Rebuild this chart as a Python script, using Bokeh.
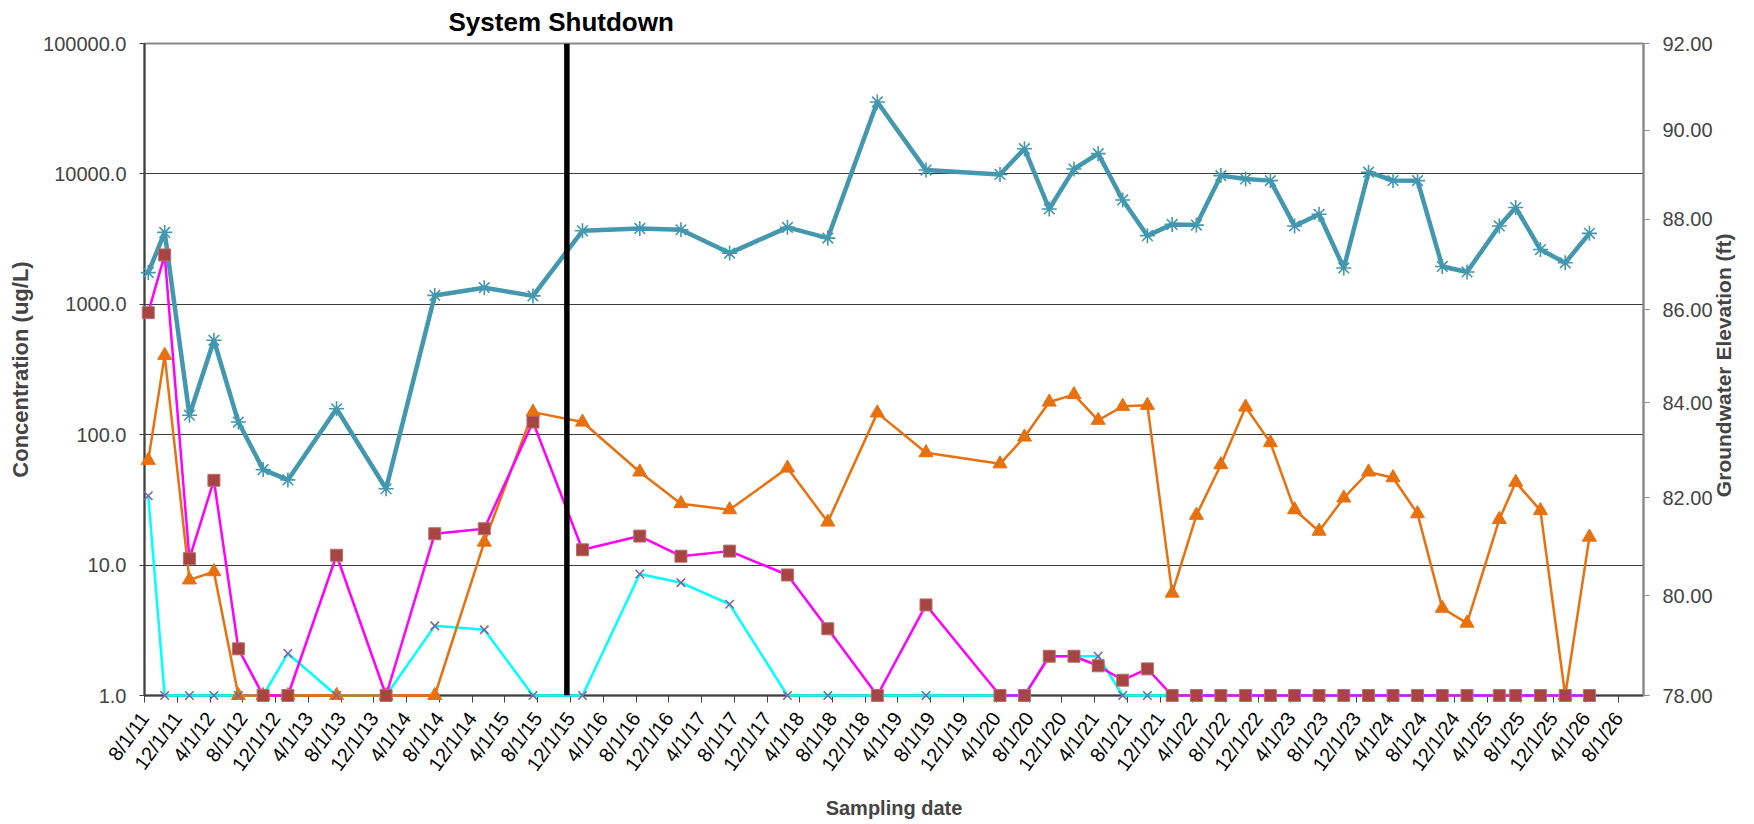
import math
import pandas as pd
from bokeh.plotting import figure
from bokeh.models import (Range1d, LinearAxis, FixedTicker, PrintfTickFormatter, Span)
from bokeh.embed import file_html
from bokeh.resources import INLINE

# ---------------- data ----------------
DATES = ["2011-08-15", "2011-10-15", "2012-01-15", "2012-04-15", "2012-07-15",
         "2012-10-15", "2013-01-15", "2013-07-15", "2014-01-15", "2014-07-15",
         "2015-01-15", "2015-07-15", "2016-01-15", "2016-08-15", "2017-01-15",
         "2017-07-15", "2018-02-15", "2018-07-15", "2019-01-15", "2019-07-15",
         "2020-04-15", "2020-07-15", "2020-10-15", "2021-01-15", "2021-04-15",
         "2021-07-15", "2021-10-15", "2022-01-15", "2022-04-15", "2022-07-15",
         "2022-10-15", "2023-01-15", "2023-04-15", "2023-07-15", "2023-10-15",
         "2024-01-15", "2024-04-15", "2024-07-15", "2024-10-15", "2025-01-15",
         "2025-05-15", "2025-07-15", "2025-10-15", "2026-01-15", "2026-04-15"]

TEAL = [1750, 3560, 141, 530, 125, 54, 45, 158, 38.5, 1170,
        1340, 1160, 3660, 3820, 3730, 2470, 3890, 3220, 35600, 10700,
        9900, 15600, 5380, 10900, 14300, 6310, 3360, 4100, 4050, 9700,
        9150, 8880, 3990, 4900, 1900, 10300, 8900, 8880, 1950, 1770,
        3990, 5520, 2630, 2080, 3500]

ORANGE = [63.6, 406, 7.7, 8.9, 1.0, 1.0, 1.0, 1.0, 1.0, 1.0,
          15, 149, 125, 51.8, 29.6, 26.6, 55.5, 21.4, 147, 72.8,
          59.8, 96, 178, 203, 129, 165, 168, 6.1, 24.1, 58.9,
          163, 86.9, 26.6, 18.2, 32.7, 51.8, 46.8, 24.8, 4.67, 3.59,
          22.4, 43.2, 26.2, 1.0, 16.4]

MAGENTA = [863, 2390, 11.2, 44.7, 2.28, 1.0, 1.0, 11.9, 1.0, 17.4,
           19, 125, 13.1, 16.7, 11.7, 12.8, 8.4, 3.25, 1.0, 4.95,
           1.0, 1.0, 2.0, 2.0, 1.69, 1.31, 1.6, 1.0, 1.0, 1.0,
           1.0, 1.0, 1.0, 1.0, 1.0, 1.0, 1.0, 1.0, 1.0, 1.0,
           1.0, 1.0, 1.0, 1.0, 1.0]

CYAN = [34, 1.0, 1.0, 1.0, 1.0, 1.0, 2.1, 1.0, 1.0, 3.42,
        3.19, 1.0, 1.0, 8.54, 7.33, 5.01, 1.0, 1.0, 1.0, 1.0,
        1.0, 1.0, 2.0, 2.0, 2.0, 1.0, 1.0, 1.0, 1.0, 1.0,
        1.0, 1.0, 1.0, 1.0, 1.0, 1.0, 1.0, 1.0, 1.0, 1.0,
        1.0, 1.0, 1.0, 1.0, 1.0]

TICK_LABELS = ["8/1/11", "12/1/11", "4/1/12", "8/1/12", "12/1/12", "4/1/13",
               "8/1/13", "12/1/13", "4/1/14", "8/1/14", "12/1/14", "4/1/15",
               "8/1/15", "12/1/15", "4/1/16", "8/1/16", "12/1/16", "4/1/17",
               "8/1/17", "12/1/17", "4/1/18", "8/1/18", "12/1/18", "4/1/19",
               "8/1/19", "12/1/19", "4/1/20", "8/1/20", "12/1/20", "4/1/21",
               "8/1/21", "12/1/21", "4/1/22", "8/1/22", "12/1/22", "4/1/23",
               "8/1/23", "12/1/23", "4/1/24", "8/1/24", "12/1/24", "4/1/25",
               "8/1/25", "12/1/25", "4/1/26", "8/1/26"]

LEFT_TICKS = [1, 10, 100, 1000, 10000, 100000]
RIGHT_TICKS = [78, 80, 82, 84, 86, 88, 90, 92]
X_START, X_END = "2011-08-01", "2026-11-02"
SHUTDOWN_DATE = "2015-11-18"
RIGHT_TITLE = "Groundwater Elevation (ft)"

# ---------------- helpers ----------------
EPOCH = pd.Timestamp("1970-01-01")


def to_ms(dates):
    return [int((d - EPOCH) // pd.Timedelta(milliseconds=1)) for d in pd.to_datetime(dates)]


x = to_ms(DATES)
tick_ms = to_ms(pd.to_datetime(TICK_LABELS, format="%m/%d/%y"))
x0, x1 = to_ms([X_START, X_END])

FONT = "Liberation Sans"

p = figure(width=1750, height=822, output_backend="svg", toolbar_location=None,
           y_axis_type="log", x_range=Range1d(x0, x1),
           y_range=Range1d(LEFT_TICKS[0], LEFT_TICKS[-1]),
           min_border_left=144, min_border_right=107, min_border_top=43,
           min_border_bottom=126)
p.outline_line_color = "#898989"
p.outline_line_width = 2
p.background_fill_color = "white"
p.border_fill_color = "white"

# title: "System Shutdown"
p.title.text = "System Shutdown"
p.title.align = "left"
p.title.vertical_align = "top"
p.title.offset = 304
p.title.text_font = FONT
p.title.text_font_style = "bold"
p.title.text_font_size = "26px"
p.title.text_color = "black"
p.title.standoff = 10

# x axis
xa = p.xaxis[0]
xa.ticker = FixedTicker(ticks=tick_ms)
xa.major_label_overrides = {t: s for t, s in zip(tick_ms, TICK_LABELS)}
xa.major_label_orientation = 0.94
xa.major_label_text_font = FONT
xa.major_label_text_font_size = "20px"
xa.major_label_text_color = "black"
xa.major_label_standoff = 12
xa.major_tick_out = 7
xa.major_tick_in = 0
xa.minor_tick_line_color = None
xa.axis_line_color = "#404040"
xa.axis_line_width = 2
xa.major_tick_line_color = "#404040"
xa.axis_label = "Sampling date"
xa.axis_label_text_font = FONT
xa.axis_label_text_font_style = "bold"
xa.axis_label_text_font_size = "20px"
xa.axis_label_standoff = 13

# left axis
ya = p.yaxis[0]
ya.ticker = FixedTicker(ticks=LEFT_TICKS)
ya.formatter = PrintfTickFormatter(format="%.1f")
ya.major_label_text_font = FONT
ya.major_label_text_font_size = "20px"
ya.major_label_standoff = 13
ya.major_tick_out = 5
ya.major_tick_in = 0
ya.minor_tick_line_color = None
ya.axis_line_color = "#404040"
ya.axis_line_width = 2
ya.major_tick_line_color = "#404040"
ya.axis_label = "Concentration (ug/L)"
ya.axis_label_text_font = FONT
ya.axis_label_text_font_style = "bold"
ya.axis_label_text_font_size = "22px"
ya.axis_label_standoff = 7

# right axis
p.extra_y_ranges = {"elev": Range1d(RIGHT_TICKS[0], RIGHT_TICKS[-1])}
ra = LinearAxis(y_range_name="elev", ticker=FixedTicker(ticks=RIGHT_TICKS),
                formatter=PrintfTickFormatter(format="%.2f"))
ra.major_label_text_font = FONT
ra.major_label_text_font_size = "20px"
ra.major_label_standoff = 13
ra.major_tick_out = 6
ra.major_tick_in = 0
ra.minor_tick_line_color = None
ra.axis_line_color = "#8c8c8c"
ra.axis_line_width = 2
ra.major_tick_line_color = "#8c8c8c"
ra.axis_label_text_font = FONT
ra.axis_label_text_font_style = "bold"
ra.axis_label_text_font_size = "21px"
ra.axis_label_standoff = 8
_props = ra.properties()
if "axis_label_orientation" in _props and "axis_label_align" in _props:
    # read bottom-to-top like the reference; anchor at the bottom and pad so it sits centred
    ra.axis_label_orientation = math.pi / 2
    ra.axis_label_align = "start"
    ra.axis_label = "\u00a0" * 34 + RIGHT_TITLE
else:
    ra.axis_label = RIGHT_TITLE
p.add_layout(ra, "right")

# grid
p.xgrid.visible = False
p.ygrid.ticker = FixedTicker(ticks=LEFT_TICKS)
p.ygrid.grid_line_color = "#3c3c3c"
p.ygrid.grid_line_width = 1

# series lines (drawn first)
TEAL_C, CYAN_C, ORANGE_C, MAG_C = "#4397AF", "#00FFFF", "#E8700F", "#FF00FF"
LVL = "annotation"
p.line(x, TEAL, line_color=TEAL_C, line_width=4.5, level=LVL)
p.line(x, CYAN, line_color=CYAN_C, line_width=2.5, level=LVL)
p.line(x, ORANGE, line_color=ORANGE_C, line_width=2.5, level=LVL)
p.line(x, MAGENTA, line_color=MAG_C, line_width=2.5, level=LVL)

# markers
p.scatter(x, TEAL, marker="asterisk", size=15, line_color=TEAL_C, line_width=1.6, level=LVL)
p.scatter(x, ORANGE, marker="triangle", size=14, fill_color=ORANGE_C,
          line_color=ORANGE_C, line_width=1, level=LVL)
p.scatter(x, CYAN, marker="x", size=12, line_color="#7E62A1", line_width=1.6, level=LVL)
p.scatter(x, MAGENTA, marker="square", size=12, fill_color="#A64541",
          line_color="#B8706C", line_width=1, level=LVL)

# system shutdown marker
sd = to_ms([SHUTDOWN_DATE])[0]
p.add_layout(Span(location=sd, dimension="height", line_color="black", line_width=5.5))

open("out.html", "w").write(file_html(p, INLINE))
